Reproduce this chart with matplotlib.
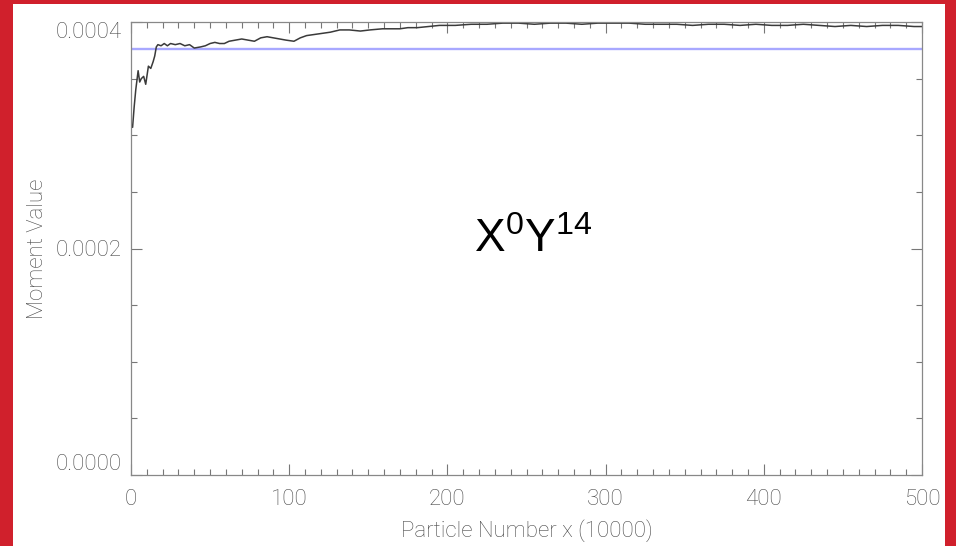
import matplotlib

matplotlib.use("Agg")
import matplotlib.pyplot as plt
from matplotlib.patches import Rectangle
from matplotlib.ticker import MultipleLocator, FormatStrFormatter

# running moment estimate vs particle count (units: 10000 particles)
particle_number = [
    0, 1, 2, 3, 4.5, 5.5, 6.5, 8, 9.3, 11, 12.5, 14, 15, 16, 17, 19, 21, 23, 25, 28,
    31, 34, 37, 40, 44, 47, 50, 53, 56, 59, 62, 66, 70, 74, 78, 82, 86, 90, 94, 98,
    103, 107, 111, 116, 121, 126, 132, 138, 145, 151, 159, 165, 170, 175, 181, 188,
    195, 205, 215, 225, 235, 245, 255, 265, 275, 285, 295, 305, 315, 325, 335, 345,
    355, 365, 375, 385, 395, 405, 415, 425, 435, 445, 455, 465, 475, 485, 495, 500,
]
moment_value = [
    3.10, 3.07, 3.25, 3.40, 3.57, 3.47, 3.50, 3.52, 3.45, 3.61, 3.59, 3.65, 3.70, 3.78,
    3.80, 3.79, 3.81, 3.79, 3.81, 3.80, 3.81, 3.79, 3.80, 3.77, 3.78, 3.79, 3.81, 3.82,
    3.81, 3.81, 3.83, 3.84, 3.85, 3.84, 3.83, 3.86, 3.87, 3.86, 3.85, 3.84, 3.83, 3.86,
    3.88, 3.89, 3.90, 3.91, 3.93, 3.93, 3.92, 3.93, 3.94, 3.94, 3.94, 3.95, 3.95, 3.96,
    3.97, 3.97, 3.98, 3.98, 3.99, 3.99, 3.98, 3.99, 3.99, 3.98, 3.99, 3.99, 3.99, 3.98,
    3.98, 3.98, 3.97, 3.98, 3.98, 3.97, 3.98, 3.97, 3.97, 3.98, 3.97, 3.96, 3.97, 3.96,
    3.97, 3.97, 3.96, 3.96,
]
moment_value = [v * 1e-4 for v in moment_value]
exact_value = 3.76e-4

X_TICKS = [0, 100, 200, 300, 400, 500]
Y_TICKS = [0.0, 0.0002, 0.0004]

TEXT_GRAY = "#4a4a4a"
BORDER_RED = "#d0202c"
LABEL_FONT = dict(family="Roboto", weight="light", size=16, color=TEXT_GRAY)

fig = plt.figure(figsize=(9.56, 5.46), dpi=100, facecolor=BORDER_RED)
fig.patches.append(
    Rectangle((13 / 956, 0), 932 / 956, 542 / 546, transform=fig.transFigure,
              facecolor="white", edgecolor="none", zorder=-10)
)

ax = fig.add_axes([131 / 956, 71 / 546, 791 / 956, 453 / 546])
ax.set_facecolor("white")
ax.axhline(exact_value, color="#a8a8ff", linewidth=1.7, zorder=1)
ax.plot(particle_number, moment_value, color="#3a3a3a", linewidth=1.1, zorder=2)

ax.set_xlim(0, 500)
ax.set_ylim(0, 0.0004)
ax.set_xticks(X_TICKS)
ax.set_yticks(Y_TICKS)
ax.xaxis.set_minor_locator(MultipleLocator(10))
ax.yaxis.set_minor_locator(MultipleLocator(0.00005))
ax.yaxis.set_major_formatter(FormatStrFormatter("%.4f"))

for spine in ax.spines.values():
    spine.set_color("#888888")
    spine.set_linewidth(0.9)

ax.tick_params(which="both", direction="in", top=True, right=True,
               color="#777777", width=0.8)
ax.tick_params(which="major", length=8)
ax.tick_params(which="minor", length=4)
ax.tick_params(axis="x", which="major", pad=10)
ax.tick_params(axis="y", which="major", pad=7)

for label in ax.get_xticklabels() + ax.get_yticklabels():
    label.set_fontfamily(LABEL_FONT["family"])
    label.set_fontweight(LABEL_FONT["weight"])
    label.set_fontsize(LABEL_FONT["size"])
    label.set_color(TEXT_GRAY)

ylabels = ax.get_yticklabels()
ylabels[0].set_verticalalignment("bottom")
ylabels[-1].set_verticalalignment("top")

ax.set_xlabel("Particle Number x (10000)", labelpad=7, **LABEL_FONT)
ax.set_ylabel("Moment Value", labelpad=5, **LABEL_FONT)

plt.rcParams["mathtext.fontset"] = "custom"
plt.rcParams["mathtext.rm"] = "Liberation Sans"
plt.rcParams["mathtext.it"] = "Liberation Sans"
ax.text(254, 0.000197, r"$\mathrm{X}^{0}\mathrm{Y}^{14}$", fontsize=33,
        family="Liberation Sans", color="black", ha="center", va="baseline")

fig.savefig("out.png", dpi=100, facecolor=fig.get_facecolor())
plt.close(fig)
